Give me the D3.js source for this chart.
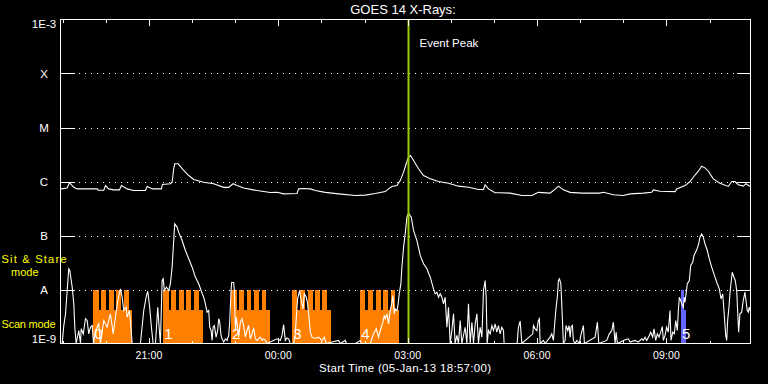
<!DOCTYPE html>
<html><head><meta charset="utf-8">
<script src="https://cdn.jsdelivr.net/npm/d3@7"></script>
<style>html,body{margin:0;padding:0;background:#000;} svg{display:block;}</style>
</head><body>
<svg id="chart" width="768" height="384"></svg>
<script>
// ---------------- data ----------------
const chartTitle = "GOES 14 X-Rays:";
const xAxisTitle = "Start Time (05-Jan-13 18:57:00)";
const startUtc = Date.UTC(2013, 0, 5, 18, 57, 0);
const durationMinutes = 960;
const yTickValues = [1e-9, 1e-8, 1e-7, 1e-6, 1e-5, 1e-4, 1e-3];
const yTickLabels = ["1E-9", "A", "B", "C", "M", "X", "1E-3"];
const xTickLabels = ["21:00", "00:00", "03:00", "06:00", "09:00"];
const eventPeakMinute = 484.2;
const eventLabel = "Event Peak";
const modeLabels = ["Sit & Stare", "mode", "Scan mode"];

// long channel (1-8 Å): [minutes after start, flux W/m²]
const longChannel = [[0,7.3e-7],[1.0,7.3e-7],[9.3,7.6e-7],[12.5,9.5e-7],[18.5,7.8e-7],[23.2,7.3e-7],[51.0,7.3e-7],[52.4,6.9e-7],[60.2,6.9e-7],[62.6,8.4e-7],[67.1,7.3e-7],[73.7,7.0e-7],[82.0,7.0e-7],[84.8,8.4e-7],[92.7,7.3e-7],[101.5,6.8e-7],[118.2,6.8e-7],[120.5,8.1e-7],[125.1,7.6e-7],[127.5,7.3e-7],[140.4,7.3e-7],[141.8,8.8e-7],[152.9,9.1e-7],[155.3,9.7e-7],[157.5,1.72e-6],[158.9,2.13e-6],[163.6,2.13e-6],[166.8,1.90e-6],[171.4,1.60e-6],[178.4,1.29e-6],[185.3,1.09e-6],[199.2,9.7e-7],[213.1,9.1e-7],[227.0,7.8e-7],[234.0,7.8e-7],[240.1,9.1e-7],[245.7,8.4e-7],[254.8,7.6e-7],[273.5,6.8e-7],[291.9,6.25e-7],[301.3,6.3e-7],[310.4,5.9e-7],[329.1,6.0e-7],[331.3,7.3e-7],[338.2,7.4e-7],[347.6,7.3e-7],[354.5,6.8e-7],[368.4,6.3e-7],[386.9,5.9e-7],[410.1,5.5e-7],[424.0,5.6e-7],[437.9,6.0e-7],[451.8,6.5e-7],[456.4,7.3e-7],[461.1,8.1e-7],[468.1,8.4e-7],[472.7,1.04e-6],[477.3,1.49e-6],[481.0,2.13e-6],[484.2,2.82e-6],[487.0,3.03e-6],[491.2,2.45e-6],[498.1,1.72e-6],[505.1,1.29e-6],[514.4,1.12e-6],[525.9,1.0e-6],[539.8,9.3e-7],[553.7,8.2e-7],[567.6,7.8e-7],[581.5,7.1e-7],[588.5,7.1e-7],[590.8,8.7e-7],[595.4,7.3e-7],[604.7,6.2e-7],[611.7,6.2e-7],[625.6,6.1e-7],[641.9,5.5e-7],[655.8,5.5e-7],[664.9,6.3e-7],[681.2,6.1e-7],[685.8,6.8e-7],[692.8,8.2e-7],[699.7,7.0e-7],[709.0,6.3e-7],[725.3,6.1e-7],[750.7,6.1e-7],[755.3,6.3e-7],[769.2,5.7e-7],[783.1,5.5e-7],[792.5,5.9e-7],[810.9,6.1e-7],[822.6,6.3e-7],[824.8,7.0e-7],[834.1,6.6e-7],[855.0,6.5e-7],[857.4,7.3e-7],[868.9,8.4e-7],[875.9,1.0e-6],[880.4,1.2e-6],[887.4,1.55e-6],[892.1,1.92e-6],[896.7,1.79e-6],[901.3,1.55e-6],[908.2,1.12e-6],[917.5,9.3e-7],[929.1,8.1e-7],[933.8,1.0e-6],[938.4,1.0e-6],[943.0,8.7e-7],[950.0,8.2e-7],[953.7,9.1e-7],[959.3,8.1e-7]];

// short channel (0.5-4 Å): [minutes after start, flux W/m²]
const shortChannel = [[0.5,1e-9],[2.4,1e-9],[4.6,2.15e-9],[7.0,3.55e-9],[9.3,9.6e-9],[11.5,2.42e-8],[12.9,2.25e-8],[16.3,1.10e-8],[18.5,5.4e-9],[19.9,2.0e-9],[21.8,1e-9],[25.4,1.74e-9],[27.8,1e-9],[28.8,1.87e-9],[31.6,1.51e-9],[34.8,2.87e-9],[37.1,2.67e-9],[39.3,1.51e-9],[41.7,2.0e-9],[44.1,2.15e-9],[45.9,1e-9],[48.7,1.74e-9],[53.2,2.31e-9],[55.6,1e-9],[60.2,2.67e-9],[64.9,2.0e-9],[69.5,3.55e-9],[73.3,1.51e-9],[76.5,3.07e-9],[79.7,6.26e-9],[83.4,1.03e-8],[85.8,7.2e-9],[88.0,4.08e-9],[91.3,4.7e-9],[92.7,3.07e-9],[95.9,4.08e-9],[98.3,1.74e-9],[99.7,1e-9],[111.2,1e-9],[115.8,4.08e-9],[119.6,7.74e-9],[121.4,9.3e-9],[124.1,4.7e-9],[126.5,2.0e-9],[128.9,1e-9],[132.1,1e-9],[135.3,4.7e-9],[137.2,2.0e-9],[139.0,1e-9],[141.4,1.47e-8],[142.8,1.58e-8],[144.6,9.6e-9],[147.4,1.10e-8],[150.6,9.6e-9],[152.9,1.28e-8],[155.3,2.59e-8],[157.5,8.07e-8],[158.9,1.65e-7],[162.2,1.43e-7],[164.5,1.14e-7],[169.2,8.07e-8],[173.8,5.27e-8],[178.4,3.7e-8],[183.1,2.59e-8],[187.7,1.69e-8],[192.3,1.28e-8],[197.0,8.54e-9],[199.2,7.2e-9],[201.6,5.43e-9],[203.9,3.8e-9],[206.2,4.08e-9],[207.6,2.0e-9],[209.5,1.74e-9],[210.9,1.14e-9],[212.3,2.0e-9],[214.1,2.15e-9],[216.5,1.31e-9],[218.7,1.74e-9],[220.1,2.87e-9],[221.5,2.48e-9],[223.4,1.41e-9],[224.8,1.22e-9],[227.0,1.06e-9],[229.4,1.22e-9],[231.7,1.14e-9],[234.0,1.41e-9],[235.4,2.48e-9],[237.3,9.6e-9],[238.1,1.35e-8],[240.9,1.35e-8],[241.9,9.6e-9],[243.3,1.74e-9],[244.7,3.07e-9],[247.9,1.31e-9],[250.2,2.48e-9],[252.6,2.87e-9],[254.8,2.15e-9],[257.2,1.31e-9],[259.5,1.74e-9],[261.8,2.15e-9],[264.1,1.22e-9],[266.5,1.51e-9],[268.7,1.95e-9],[271.1,1.22e-9],[273.5,1.14e-9],[278.1,1.31e-9],[280.4,1.14e-9],[282.6,1.22e-9],[285.0,1.14e-9],[287.4,1e-9],[301.3,1.22e-9],[305.8,1.14e-9],[308.2,1.41e-9],[310.4,2.25e-9],[312.8,1.14e-9],[315.2,1.27e-9],[317.4,1.22e-9],[319.7,1e-9],[324.3,1e-9],[326.7,1.51e-9],[328.1,3.07e-9],[329.9,6.73e-9],[332.7,9.6e-9],[333.6,7.74e-9],[336.0,5.43e-9],[337.4,4.39e-9],[339.2,8.32e-9],[342.0,7.2e-9],[343.8,5.43e-9],[345.7,3.07e-9],[347.6,1.62e-9],[349.9,1.31e-9],[354.5,1.24e-9],[359.1,1.31e-9],[363.8,1.14e-9],[367.0,1.31e-9],[369.8,1e-9],[386.9,1.14e-9],[389.3,1e-9],[396.2,1.14e-9],[398.0,1e-9],[410.1,1e-9],[417.1,1.14e-9],[419.0,1e-9],[431.0,1e-9],[435.6,1.51e-9],[439.3,1.87e-9],[442.5,1.31e-9],[444.9,1.74e-9],[448.6,2.48e-9],[450.4,3.3e-9],[451.8,2.87e-9],[454.2,3.55e-9],[456.4,2.31e-9],[458.8,4.08e-9],[461.1,5.82e-9],[462.5,7.74e-9],[464.3,3.55e-9],[465.7,4.39e-9],[468.1,4.08e-9],[469.5,5.06e-9],[471.3,8.32e-9],[473.6,1.28e-8],[475.0,2.59e-8],[477.3,6.07e-8],[479.6,1.07e-7],[482.0,2.18e-7],[484.2,2.59e-7],[488.0,2.18e-7],[491.2,1.24e-7],[495.9,8.07e-8],[500.5,4.27e-8],[505.1,2.99e-8],[509.8,2.42e-8],[514.4,1.69e-8],[519.0,1.03e-8],[521.3,8.32e-9],[523.7,8.9e-9],[525.9,7.2e-9],[528.3,8.32e-9],[530.6,7.2e-9],[532.9,5.43e-9],[535.2,7.2e-9],[537.6,2.0e-9],[539.8,4.7e-9],[542.2,1e-9],[544.5,1.74e-9],[546.8,3.55e-9],[549.1,1e-9],[551.5,1.41e-9],[553.7,1e-9],[556.1,2.67e-9],[558.4,1e-9],[563.0,2.0e-9],[565.4,1e-9],[567.6,5.43e-9],[570.0,1e-9],[572.4,2.48e-9],[574.6,1e-9],[577.0,2.31e-9],[579.3,3.55e-9],[581.5,1e-9],[583.9,2.0e-9],[586.3,1.31e-9],[588.5,9.6e-9],[590.8,1.47e-8],[592.2,7.2e-9],[593.6,1e-9],[595.4,1.74e-9],[597.8,1.51e-9],[600.2,2.15e-9],[602.4,1.74e-9],[604.7,2.31e-9],[607.1,1.62e-9],[609.3,2.15e-9],[611.7,1.51e-9],[614.0,2.0e-9],[616.3,1.74e-9],[617.2,1e-9],[635.3,1e-9],[637.1,2.0e-9],[639.5,2.6e-9],[641.9,1e-9],[657.1,1.51e-9],[658.0,2.15e-9],[660.3,1.87e-9],[662.7,1.74e-9],[664.9,2.67e-9],[666.3,2.87e-9],[667.3,1e-9],[671.9,1.14e-9],[674.2,1e-9],[681.2,1.31e-9],[683.5,1.51e-9],[685.8,1.14e-9],[687.2,2.0e-9],[689.1,4.08e-9],[691.4,7.74e-9],[692.8,1.47e-8],[694.2,1.58e-8],[696.1,1.28e-8],[697.5,5.06e-9],[699.7,1e-9],[702.1,1.14e-9],[703.4,2.15e-9],[705.8,1.74e-9],[707.6,2.15e-9],[709.0,1.31e-9],[710.4,2.0e-9],[712.2,2.15e-9],[713.6,1.14e-9],[716.0,1e-9],[718.3,1.14e-9],[721.9,1e-9],[723.9,1.41e-9],[727.5,2.15e-9],[728.9,1e-9],[743.8,1.31e-9],[747.0,2.48e-9],[748.9,1e-9],[760.0,1.14e-9],[763.6,1.51e-9],[767.0,1.74e-9],[769.2,2.48e-9],[771.6,1e-9],[773.0,1.62e-9],[774.8,1e-9],[785.5,1.17e-9],[790.1,1.22e-9],[792.5,1.06e-9],[799.4,1.14e-9],[804.0,1.06e-9],[808.7,1.22e-9],[810.9,1.14e-9],[813.3,1.31e-9],[815.6,1.14e-9],[819.2,1.41e-9],[821.2,1.62e-9],[823.9,1.31e-9],[825.8,1.87e-9],[828.1,1.14e-9],[830.4,1.51e-9],[832.7,1.31e-9],[835.1,1.62e-9],[837.3,2.06e-9],[838.7,1.14e-9],[841.1,1.41e-9],[843.4,2.0e-9],[845.6,1.62e-9],[848.0,4.08e-9],[849.4,1.14e-9],[851.8,1.62e-9],[854.0,1.51e-9],[856.0,2.67e-9],[858.2,1.74e-9],[859.6,4.08e-9],[861.0,7.2e-9],[862.9,6.26e-9],[864.3,5.43e-9],[866.5,4.7e-9],[867.9,7.2e-9],[868.9,5.82e-9],[870.3,8.32e-9],[872.1,1.28e-8],[874.9,1.47e-8],[876.8,2.78e-8],[879.6,3.2e-8],[881.4,4.27e-8],[885.2,5.43e-8],[887.9,7.0e-8],[889.7,9.3e-8],[892.1,1.07e-7],[894.3,9.3e-8],[896.7,7.0e-8],[899.9,5.27e-8],[902.7,3.7e-8],[906.0,2.59e-8],[910.6,1.69e-8],[913.8,1.28e-8],[916.6,1.03e-8],[919.0,6.73e-9],[921.3,8.32e-9],[923.1,4.08e-9],[925.5,1.41e-9],[926.9,1.14e-9],[928.2,2.67e-9],[930.0,4.7e-9],[931.4,8.32e-9],[932.8,1.28e-8],[934.6,2.09e-8],[937.0,1.69e-8],[938.8,1.47e-8],[940.8,9.6e-9],[942.1,4.08e-9],[943.5,1.62e-9],[945.3,3.55e-9],[947.7,3.8e-9],[949.9,6.26e-9],[952.3,8.9e-9],[953.7,6.26e-9],[955.5,4.08e-9],[956.9,3.8e-9],[958.3,4.7e-9],[959.3,4.08e-9]];

// observing-mode blocks: label, kind, [start, end] minutes (scan mode span)
const blockLabels = ["0", "1", "2", "3", "4", "5"];
const blockKinds = ["a", "a", "a", "a", "a", "b"];
const blockSpans = [[45.9,100.1],[142.8,197.8],[237.3,291.9],[322.5,376.7],[417.1,471.3],[863.3,870.2]];
// sit & stare intervals inside each block
const stareSpans = [
  [[45.9,53.3],[56.6,63.5],[67.1,74.1],[77.9,84.8],[88.6,95.0]],
  [[142.8,150.6],[153.9,160.8],[164.5,171.4],[175.2,182.1],[185.9,192.3]],
  [[237.3,244.9],[248.2,255.1],[258.8,265.7],[269.5,276.4],[280.2,286.6]],
  [[322.5,329.4],[333.1,340.1],[343.9,350.9],[353.5,360.5],[364.2,370.8]],
  [[417.1,424.0],[427.8,434.7],[438.3,445.3],[449.0,456.0],[459.7,465.7]],
  [[863.3,867.4]]
];
const stareLevel = 1e-8;
const scanLevel = 4.2e-9;

// ---------------- drawing ----------------
const W = 768, H = 384;
const plot = {left: 60.5, right: 750.5, top: 19.5, bottom: 343.5};
const FONT = "Liberation Sans, Arial, sans-serif";
const svg = d3.select("#chart");
svg.append("rect").attr("width", W).attr("height", H).attr("fill", "#000");

const toDate = m => new Date(startUtc + m * 60000);
const x = d3.scaleUtc().domain([toDate(0), toDate(durationMinutes)]).range([plot.left, plot.right]);
const y = d3.scaleLog().domain([1e-9, 1e-3]).range([plot.bottom, plot.top]).clamp(true);
const kindColor = d3.scaleOrdinal().domain(["a", "b"]).range(["#ff7f00", "#6464ff"]);

svg.append("clipPath").attr("id", "clip").append("rect")
  .attr("x", plot.left).attr("y", plot.top)
  .attr("width", plot.right - plot.left).attr("height", plot.bottom - plot.top);

// mode bars
const bars = svg.append("g").attr("shape-rendering", "crispEdges");
blockSpans.forEach((s, i) => {
  const c = kindColor(blockKinds[i]);
  bars.append("rect")
    .attr("x", x(toDate(s[0]))).attr("width", x(toDate(s[1])) - x(toDate(s[0])))
    .attr("y", y(scanLevel)).attr("height", plot.bottom - y(scanLevel))
    .attr("fill", c);
  stareSpans[i].forEach(t => {
    bars.append("rect")
      .attr("x", x(toDate(t[0]))).attr("width", x(toDate(t[1])) - x(toDate(t[0])))
      .attr("y", y(stareLevel)).attr("height", plot.bottom - y(stareLevel))
      .attr("fill", c);
  });
});

// grid lines and decade ticks
const grid = svg.append("g").attr("shape-rendering", "crispEdges");
yTickValues.slice(1, -1).forEach(v => {
  const yy = Math.round(y(v)) + 0.5;
  grid.append("line").attr("x1", 79).attr("x2", 736).attr("y1", yy).attr("y2", yy)
    .attr("stroke", "#fff").attr("stroke-width", 1).attr("stroke-dasharray", "1,5");
  grid.append("line").attr("x1", plot.left).attr("x2", plot.left + 14).attr("y1", yy).attr("y2", yy)
    .attr("stroke", "#fff");
  grid.append("line").attr("x1", plot.right - 14).attr("x2", plot.right).attr("y1", yy).attr("y2", yy)
    .attr("stroke", "#fff");
});

// data lines
const line = d3.line().x(d => x(toDate(d[0]))).y(d => y(d[1]));
const lines = svg.append("g").attr("clip-path", "url(#clip)");
lines.append("path").datum(longChannel).attr("d", line)
  .attr("fill", "none").attr("stroke", "#fff").attr("stroke-width", 1.1);
lines.append("path").datum(shortChannel).attr("d", line)
  .attr("fill", "none").attr("stroke", "#fff").attr("stroke-width", 1.1);

// block numbers
blockSpans.forEach((s, i) => {
  svg.append("text").attr("x", x(toDate(s[0])) + 1).attr("y", 338.5)
    .attr("fill", "#fff").attr("font-family", FONT)
    .attr("font-size", 15).text(blockLabels[i]);
});

// event peak
const ex = x(toDate(eventPeakMinute));
svg.append("line").attr("x1", ex).attr("x2", ex).attr("y1", plot.top).attr("y2", plot.bottom)
  .attr("stroke", "#9acd00").attr("stroke-width", 2);
svg.append("text").attr("x", ex + 11).attr("y", 47).attr("fill", "#fff")
  .attr("font-family", FONT).attr("font-size", 11.5).text(eventLabel);

// frame
svg.append("rect").attr("x", plot.left).attr("y", plot.top)
  .attr("width", plot.right - plot.left).attr("height", plot.bottom - plot.top)
  .attr("fill", "none").attr("stroke", "#fff").attr("stroke-width", 1).attr("shape-rendering", "crispEdges");

// time ticks (top and bottom)
const fmt = d3.utcFormat("%H:%M");
const hourTicks = x.ticks(d3.utcHour.every(1));
const tk = svg.append("g").attr("shape-rendering", "crispEdges");
hourTicks.forEach(t => {
  const major = xTickLabels.includes(fmt(t));
  const len = major ? 6 : 3;
  const xx = Math.round(x(t)) + 0.5;
  tk.append("line").attr("x1", xx).attr("x2", xx).attr("y1", plot.top).attr("y2", plot.top + len).attr("stroke", "#fff");
  tk.append("line").attr("x1", xx).attr("x2", xx).attr("y1", plot.bottom).attr("y2", plot.bottom - len).attr("stroke", "#fff");
});
xTickLabels.forEach(lbl => {
  const t = hourTicks.find(h => fmt(h) === lbl);
  if (!t) return;
  svg.append("text").attr("x", x(t)).attr("y", 358.5).attr("text-anchor", "middle")
    .attr("fill", "#fff").attr("font-family", FONT)
    .attr("font-size", 10.5).attr("textLength", 27).text(lbl);
});

// y labels
yTickValues.forEach((v, i) => {
  let yy = y(v) + 4.3;
  if (i === 0) yy = y(v) - 0.2;
  if (i === yTickValues.length - 1) yy = y(v) + 8;
  svg.append("text").attr("x", 44).attr("y", yy).attr("text-anchor", "middle")
    .attr("fill", "#fff").attr("font-family", FONT)
    .attr("font-size", 11.5).text(yTickLabels[i]);
});

// titles
svg.append("text").attr("x", 403).attr("y", 14).attr("text-anchor", "middle")
  .attr("fill", "#fff").attr("font-family", FONT)
  .attr("font-size", 13).text(chartTitle);
svg.append("text").attr("x", 405).attr("y", 372).attr("text-anchor", "middle")
  .attr("fill", "#fff").attr("font-family", FONT)
  .attr("font-size", 11.5).attr("textLength", 172).text(xAxisTitle);

// mode labels (yellow)
const ylab = svg.append("g").attr("fill", "#ffff00")
  .attr("font-family", FONT).attr("font-size", 11);
ylab.append("text").attr("x", 1.5).attr("y", 262.5).attr("textLength", 65).text(modeLabels[0]);
ylab.append("text").attr("x", 11).attr("y", 275.5).text(modeLabels[1]);
ylab.append("text").attr("x", 1.5).attr("y", 327.7).attr("textLength", 54).text(modeLabels[2]);
</script>
</body></html>
